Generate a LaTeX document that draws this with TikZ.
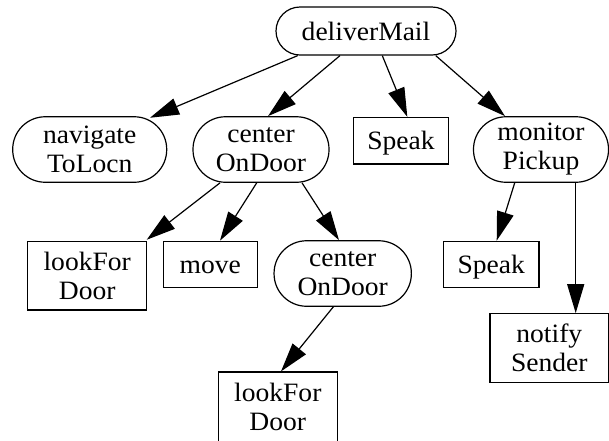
\documentclass[tikz,border=0pt]{standalone}
\usepackage{fontspec}
\setmainfont{Liberation Serif}[FakeStretch=1.04]
\usetikzlibrary{arrows.meta}
\begin{document}
\begin{tikzpicture}[x=1pt,y=-1pt,
  base/.style={draw, line width=1.2pt, inner sep=0pt, align=center,
    font=\fontsize{26.5}{29}\selectfont},
  oneline/.style={text height=18pt, text depth=-4pt},
  rone/.style={base, oneline, minimum height=48pt, rounded corners=24pt},
  rtwo/.style={base, minimum height=65.5pt, rounded corners=32.5pt},
  bone/.style={base, oneline, minimum height=46.5pt},
  btwo/.style={base, minimum height=68.5pt},
  arr/.style={line width=1.2pt, -{Triangle[length=29pt,width=17pt]}}]
\useasboundingbox (0,0) rectangle (609,440);
% nodes
\node[rone, minimum width=180pt] (dm) at (366,31) {deliverMail};
\node[rtwo, minimum width=154pt] (nav) at (89.7,149.5) {navigate\\ToLocn};
\node[rtwo, minimum width=136pt] (cod1) at (261,149.5) {center\\OnDoor};
\node[bone, minimum width=95.5pt] (spk1) at (401,140.7) {Speak};
\node[rtwo, minimum width=135pt] (mon) at (541,149.5) {monitor\\Pickup};
\node[btwo, minimum width=119pt] (lfd1) at (87.2,275.8) {lookFor\\Door};
\node[bone, minimum width=94pt] (move) at (210.3,264.5) {move};
\node[rtwo, minimum width=137.3pt] (cod2) at (342.7,273.5) {center\\OnDoor};
\node[bone, minimum width=95.7pt] (spk2) at (491.2,264.5) {Speak};
\node[btwo, minimum width=118.5pt] (nts) at (549.3,348) {notify\\Sender};
\node[btwo, minimum width=119pt, minimum height=70pt] (lfd2) at (277.8,407) {lookFor\\Door};
% edges
\draw[arr] ([shift={(-68.3,0)}]dm.south) -- ([shift={(60.3,1.6)}]nav.north);
\draw[arr] ([shift={(-26,0)}]dm.south) -- ([shift={(7,0)}]cod1.north);
\draw[arr] ([shift={(16.3,0)}]dm.south) -- ([shift={(6.3,0)}]spk1.north);
\draw[arr] ([shift={(69.7,0)}]dm.south) -- ([shift={(-36,0)}]mon.north);
\draw[arr] ([shift={(-41,0)}]cod1.south) -- ([shift={(59.5,-1.2)}]lfd1.north);
\draw[arr] ([shift={(-4.3,0)}]cod1.south) -- ([shift={(9.7,0)}]move.north);
\draw[arr] ([shift={(41,0)}]cod1.south) -- ([shift={(-3.7,0)}]cod2.north);
\draw[arr] ([shift={(-9.4,0)}]cod2.south) -- ([shift={(3.2,0)}]lfd2.north);
\draw[arr] ([shift={(-26.3,0)}]mon.south) -- ([shift={(5.5,0)}]spk2.north);
\draw[arr] ([shift={(34.7,0)}]mon.south) -- ([shift={(26.4,0)}]nts.north);
\end{tikzpicture}
\end{document}
